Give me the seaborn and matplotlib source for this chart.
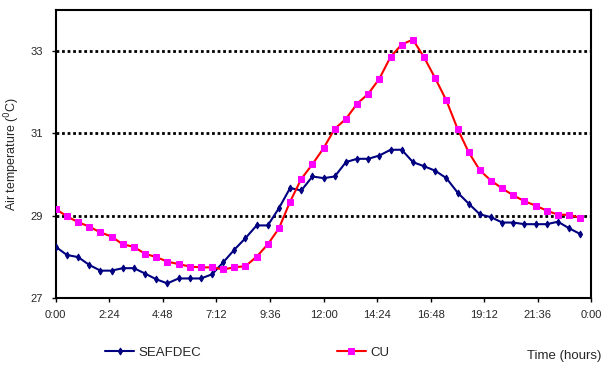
import numpy as np
import pandas as pd
import matplotlib
matplotlib.use("Agg")
import matplotlib.pyplot as plt
import seaborn as sns

# ── data (half-hourly, 0:00 .. 23:30) ──
hours = [i * 0.5 for i in range(48)]

seafdec = [28.24, 28.04, 27.99, 27.80, 27.66, 27.66, 27.72, 27.72,
           27.59, 27.45, 27.35, 27.47, 27.47, 27.47, 27.57, 27.86,
           28.17, 28.45, 28.76, 28.76, 29.18, 29.67, 29.61, 29.95,
           29.91, 29.95, 30.30, 30.38, 30.38, 30.46, 30.60, 30.60,
           30.30, 30.20, 30.09, 29.91, 29.56, 29.29, 29.03, 28.96,
           28.83, 28.83, 28.79, 28.79, 28.79, 28.85, 28.69, 28.55]

cu = [29.16, 28.98, 28.84, 28.73, 28.59, 28.49, 28.30, 28.24,
      28.07, 27.99, 27.88, 27.82, 27.76, 27.74, 27.74, 27.69,
      27.74, 27.77, 28.00, 28.30, 28.69, 29.34, 29.89, 30.25,
      30.64, 31.11, 31.35, 31.72, 31.96, 32.33, 32.86, 33.16,
      33.28, 32.85, 32.34, 31.80, 31.11, 30.54, 30.10, 29.85,
      29.66, 29.49, 29.35, 29.24, 29.12, 29.02, 29.02, 28.94]

series_names = ["SEAFDEC", "CU"]
y_ticks = [27, 29, 31, 33]
x_ticks = [i * 2.4 for i in range(11)]
x_tick_labels = ["0:00", "2:24", "4:48", "7:12", "9:36", "12:00",
                 "14:24", "16:48", "19:12", "21:36", "0:00"]

df = pd.DataFrame({
    "hour": hours * 2,
    "temp": seafdec + cu,
    "site": [series_names[0]] * len(hours) + [series_names[1]] * len(hours),
})

sns.set_style("white")
plt.rcParams["font.family"] = ["Liberation Sans", "DejaVu Sans"]

fig = plt.figure(figsize=(6.06, 3.69), dpi=100)
ax = fig.add_axes([0.092, 0.193, 0.884, 0.780])

# dotted gridlines at 29, 31, 33
for yv in y_ticks[1:]:
    ax.axhline(yv, color="black", linestyle=(0, (1, 1)), linewidth=2, zorder=1)

sns.lineplot(data=df[df["site"] == "SEAFDEC"], x="hour", y="temp", ax=ax,
             color="#000080", linewidth=1.5, marker="d", markersize=3.5,
             markeredgecolor="#000080", label="SEAFDEC", zorder=3)
sns.lineplot(data=df[df["site"] == "CU"], x="hour", y="temp", ax=ax,
             color="#ff0000", linewidth=1.5, marker="s", markersize=5,
             markerfacecolor="#ff00ff", markeredgecolor="#ff00ff",
             label="CU", zorder=4)

ax.set_xlim(0, 24)
ax.set_ylim(27, 34)
ax.set_xticks(x_ticks)
ax.set_xticklabels(x_tick_labels, fontsize=8)
ax.set_yticks(y_ticks)
ax.set_yticklabels([str(v) for v in y_ticks], fontsize=8)
ax.tick_params(axis="both", direction="out", length=3, width=1, color="black",
               bottom=True, left=True, pad=6)
ax.set_xlabel("")
ax.set_ylabel("Air temperature ($^0$C)", fontsize=9, labelpad=6)
for s in ax.spines.values():
    s.set_color("black")
    s.set_linewidth(1.5)

ax.get_legend().remove()
handles, labels = ax.get_legend_handles_labels()
fig.legend(handles, labels, loc="center left", bbox_to_anchor=(0.165, 0.045),
           ncol=2, frameon=False, fontsize=9.5, handlelength=2.2,
           handletextpad=0.3, columnspacing=10.3, borderaxespad=0)

fig.text(527 / 606, 1 - 356 / 369, "Time (hours)", fontsize=9.5,
         ha="left", va="center")

fig.savefig("out.png", dpi=100)
